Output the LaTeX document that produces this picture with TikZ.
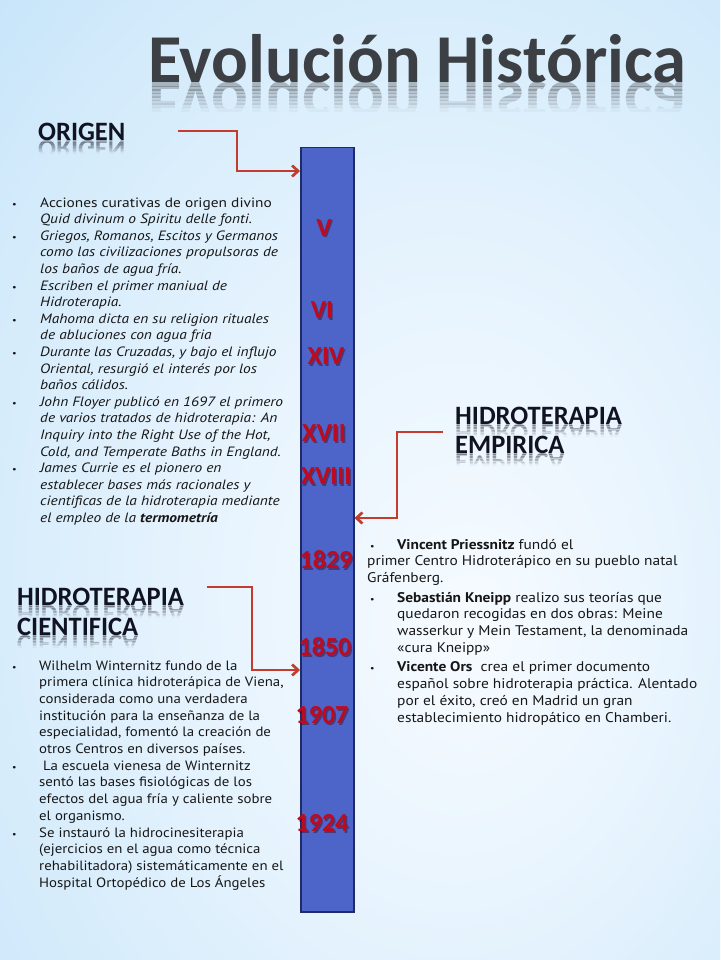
\documentclass[tikz,border=0pt]{standalone}
\usepackage{fontspec}
\setmainfont{PT Sans}[FakeStretch=1.10]
\newfontfamily\bodyLfont{PT Sans}[FakeStretch=1.14]
\newfontfamily\hfont{Carlito}
\usetikzlibrary{arrows.meta}
\definecolor{bg0}{HTML}{F6FBFF}
\definecolor{bg1}{HTML}{EAF5FE}
\definecolor{bg2}{HTML}{D4EBFB}
\definecolor{bg3}{HTML}{B6DDF8}
\definecolor{bg4}{HTML}{9CCEF4}
\definecolor{barblue}{HTML}{4D65C9}
\definecolor{barline}{HTML}{1E2B68}
\definecolor{arrred}{HTML}{C43C2C}
\definecolor{labred}{HTML}{BF0A1E}
\definecolor{labshadow}{HTML}{4A0010}
\definecolor{titlegray}{HTML}{3C3F44}
\definecolor{headc}{HTML}{121322}
\definecolor{bodyc}{HTML}{161616}
\pgfdeclareradialshading{bgshade}{\pgfpoint{8bp}{-8bp}}{color(0bp)=(bg0); color(14bp)=(bg1); color(33bp)=(bg2); color(52bp)=(bg3); color(78bp)=(bg4)}
\newcommand\bl[1]{\llap{\makebox[#1][l]{\fontsize{9}{9}\selectfont\textbullet}}}
% reflected text: name, x, y(baseline), style, text, depth
\newcommand\refltext[6]{%
  \node[anchor=base west, inner sep=0, #4] (#1) at (#2,#3) {#5};
  \foreach \k in {0,...,7}{%
    \pgfmathsetmacro\op{0.32*(1-\k/8)}%
    \begin{scope}
      \clip (#2-10, #3+\k*#6/8) rectangle (#2+700, #3+\k*#6/8+#6/8+0.4);
      \begin{scope}[shift={(#2,#3)}]
        \node[anchor=base west, inner sep=0, yscale=-1, transform shape, opacity=\op, #4] (#1r\k) at (0,0) {#5};
      \end{scope}
    \end{scope}
  }%
}
\newcommand\lbl[4]{%
  \node[lblf, text=labshadow, opacity=0.45] (#1s) at (#2+1.5,#3+1.5) {#4};
  \node[lblf] (#1) at (#2,#3) {#4};
}
\tikzset{
  titlef/.style={font=\hfont\bfseries\fontsize{68.5}{70}\selectfont, text=titlegray},
  headf/.style={font=\hfont\bfseries\fontsize{26.5}{28}\selectfont, text=headc},
  lblf/.style={font=\hfont\bfseries\fontsize{26}{26}\selectfont, text=labred, anchor=base, inner sep=0},
  bodyL/.style={font=\bodyLfont\fontsize{13.5}{16.6}\selectfont, text=bodyc, anchor=base west, inner sep=0},
  bodyR/.style={font=\fontsize{14}{16.7}\selectfont, text=bodyc, anchor=base west, inner sep=0},
  bodyC/.style={font=\fontsize{13.5}{16.7}\selectfont, text=bodyc, anchor=base west, inner sep=0},
  arr/.style={draw=arrred, line width=2.6pt, line join=miter, -{Straight Barb[length=6pt,width=11pt]}},
  arrsh/.style={draw=black, opacity=0.18, line width=2.6pt, line join=miter, -{Straight Barb[length=6pt,width=11pt]}},
}
\begin{document}
\begin{tikzpicture}[x=1pt,y=-1pt]
\useasboundingbox (0,0) rectangle (720,960);
\shade[shading=bgshade] (0,0) rectangle (720,960);

% title
\refltext{title}{148}{83}{titlef}{Evolución Histórica}{28}

% headings
\refltext{hOrigen}{38}{141}{headf}{ORIGEN}{12}
\refltext{hEmp1}{455}{424}{headf}{HIDROTERAPIA}{12}
\refltext{hEmp2}{455}{453}{headf}{EMPIRICA}{12}
\refltext{hCie1}{17}{605}{headf}{HIDROTERAPIA}{12}
\refltext{hCie2}{17}{635}{headf}{CIENTIFICA}{12}

% timeline bar
\node[draw=barline, fill=barblue, line width=1.5pt, minimum width=53pt, minimum height=764pt, inner sep=0, anchor=north west] (bar) at (300,147) {};

\lbl{lV}{324}{236}{V}
\lbl{lVI}{322}{318.5}{VI}
\lbl{lXIV}{326}{364.5}{XIV}
\lbl{lXVII}{324}{441.5}{XVII}
\lbl{lXVIII}{326}{484.5}{XVIII}
\lbl{l1829}{326}{568.5}{1829}
\lbl{l1850}{325}{655.5}{1850}
\lbl{l1907}{322}{723.5}{1907}
\lbl{l1924}{322}{831.5}{1924}

% arrows
\coordinate (o1) at (178,131);
\coordinate (o2) at (237,150);
\coordinate (o3) at ([yshift=-24pt]bar.north west);
\coordinate (e1) at (443,432);
\coordinate (e2) at (397,475);
\coordinate (e3) at ([yshift=-371pt]bar.north east);
\coordinate (c1) at (207,587);
\coordinate (c2) at (252,630);
\coordinate (c3) at ([yshift=-523pt]bar.north west);
\begin{scope}[shift={(1.5,1.5)}]
\draw[arrsh] (o1) -| (o2) |- (o3);
\draw[arrsh] (e1) -| (e2) |- (e3);
\draw[arrsh] (c1) -| (c2) |- (c3);
\end{scope}
\draw[arr] (o1) -| (o2) |- (o3);
\draw[arr] (e1) -| (e2) |- (e3);
\draw[arr] (c1) -| (c2) |- (c3);

% left top text
\node[bodyL] (tOrigen) at (40,207) {\vtop{%
\hbox{\bl{28pt}Acciones curativas de origen divino}
\hbox{\itshape Quid divinum o Spiritu delle fonti.}
\hbox{\bl{28pt}\itshape Griegos, Romanos, Escitos y Germanos}
\hbox{\itshape como las civilizaciones propulsoras de}
\hbox{\itshape los baños de agua fría.}
\hbox{\bl{28pt}\itshape Escriben el primer maniual de}
\hbox{\itshape Hidroterapia.}
\hbox{\bl{28pt}\itshape Mahoma dicta en su religion rituales}
\hbox{\itshape de abluciones con agua fria}
\hbox{\bl{28pt}\itshape Durante las Cruzadas, y bajo el influjo}
\hbox{\itshape Oriental, resurgió el interés por los}
\hbox{\itshape baños cálidos.}
\hbox{\bl{28pt}\itshape John Floyer publicó en 1697 el primero}
\hbox{\itshape de varios tratados de hidroterapia: An}
\hbox{\itshape Inquiry into the Right Use of the Hot,}
\hbox{\itshape Cold, and Temperate Baths in England.}
\hbox{\bl{28pt}\itshape James Currie es el pionero en}
\hbox{\itshape establecer bases más racionales y}
\hbox{\itshape cientificas de la hidroterapia mediante}
\hbox{\itshape el empleo de la \bfseries termometría}
}};

% right text
\node[bodyR] (tEmp) at (397,549) {\vtop{%
\hbox{\bl{27pt}\textbf{Vincent Priessnitz} fundó el}
\hbox{\kern-30pt primer Centro Hidroterápico en su pueblo natal}
\hbox{\kern-30pt Gráfenberg.}
\vskip3pt
\hbox{\bl{27pt}\textbf{Sebastián Kneipp} realizo sus teorías que}
\hbox{quedaron recogidas en dos obras: Meine}
\hbox{wasserkur y Mein Testament, la denominada}
\hbox{«cura Kneipp»}
\vskip3pt
\hbox{\bl{27pt}\textbf{Vicente Ors}\ \ crea el primer documento}
\hbox{español sobre hidroterapia práctica. Alentado}
\hbox{por el éxito, creó en Madrid un gran}
\hbox{establecimiento hidropático en Chamberi.}
}};

% bottom-left text
\node[bodyC] (tCie) at (39,670) {\vtop{%
\hbox{\bl{27pt}Wilhelm Winternitz fundo de la}
\hbox{primera clínica hidroterápica de Viena,}
\hbox{considerada como una verdadera}
\hbox{institución para la enseñanza de la}
\hbox{especialidad, fomentó la creación de}
\hbox{otros Centros en diversos países.}
\hbox{\bl{27pt}\ La escuela vienesa de Winternitz}
\hbox{sentó las bases fisiológicas de los}
\hbox{efectos del agua fría y caliente sobre}
\hbox{el organismo.}
\hbox{\bl{27pt}Se instauró la hidrocinesiterapia}
\hbox{(ejercicios en el agua como técnica}
\hbox{rehabilitadora) sistemáticamente en el}
\hbox{Hospital Ortopédico de Los Ángeles}
}};
\end{tikzpicture}
\end{document}
